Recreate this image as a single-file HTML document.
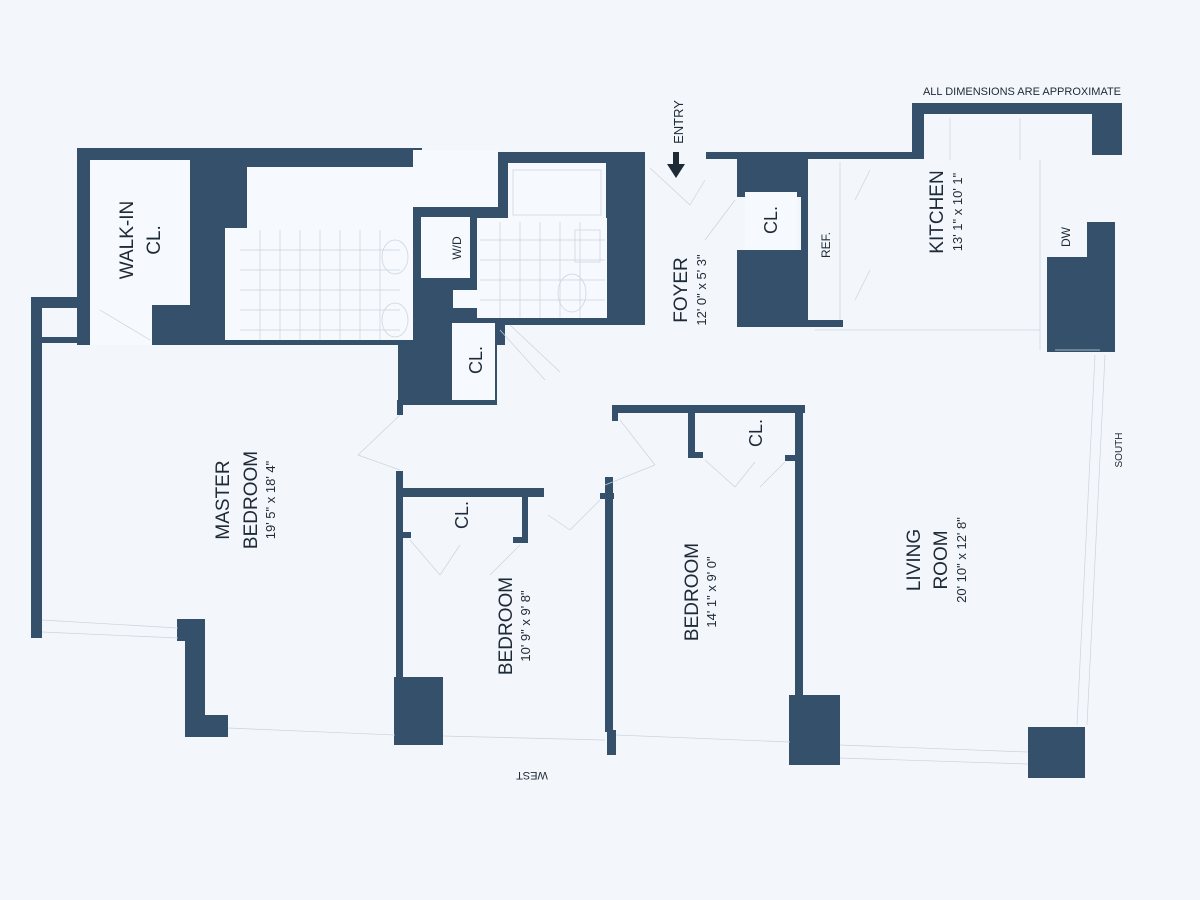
<!DOCTYPE html>
<html><head><meta charset="utf-8"><style>
html,body{margin:0;padding:0;background:#f3f7fc;}
svg{display:block}
text{font-family:"Liberation Sans",sans-serif;fill:#1e2a36}
</style></head><body>
<svg width="1200" height="900" viewBox="0 0 1200 900" xmlns="http://www.w3.org/2000/svg">
<rect width="1200" height="900" fill="#f3f7fc"/>
<g fill="#34506b">
<rect x="77" y="148" width="345" height="197"/>
<rect x="31" y="297" width="59" height="11"/>
<rect x="31" y="297" width="11" height="341"/>
<rect x="40" y="337" width="57" height="6"/>
<rect x="413" y="207" width="92" height="138"/>
<rect x="498" y="152" width="147" height="173"/>
<rect x="398" y="320" width="99" height="85"/>
<rect x="397" y="400" width="6" height="15"/>
<rect x="706" y="152" width="212" height="7"/>
<rect x="912" y="103" width="12" height="56"/>
<rect x="912" y="103" width="210" height="11"/>
<rect x="1092" y="103" width="30" height="52"/>
<rect x="737" y="152" width="71" height="45"/>
<rect x="801" y="152" width="7" height="175"/>
<rect x="737" y="250" width="71" height="77"/>
<rect x="800" y="320" width="43" height="7"/>
<rect x="1047" y="257" width="68" height="95"/>
<rect x="1087" y="222" width="28" height="40"/>
<rect x="177" y="619" width="28" height="22"/>
<rect x="185" y="619" width="20" height="118"/>
<rect x="185" y="715" width="43" height="22"/>
<rect x="396" y="471" width="7" height="274"/>
<rect x="396" y="488" width="148" height="9"/>
<rect x="522" y="493" width="6" height="50"/>
<rect x="513" y="537" width="15" height="6"/>
<rect x="403" y="532" width="8" height="6"/>
<rect x="394" y="677" width="49" height="68"/>
<rect x="605" y="477" width="8" height="255"/>
<rect x="600" y="493" width="14" height="6"/>
<rect x="607" y="730" width="9" height="25"/>
<rect x="612" y="405" width="193" height="8"/>
<rect x="612" y="405" width="6" height="16"/>
<rect x="688" y="410" width="7" height="48"/>
<rect x="688" y="452" width="15" height="6"/>
<rect x="795" y="408" width="8" height="290"/>
<rect x="785" y="455" width="18" height="6"/>
<rect x="789" y="695" width="51" height="70"/>
<rect x="1028" y="727" width="57" height="51"/>
</g>
<g fill="#f6f9fd">
<rect x="90" y="160" width="100" height="145"/>
<rect x="90" y="300" width="62" height="45"/>
<rect x="247" y="167" width="166" height="173"/>
<rect x="225" y="228" width="24" height="112"/>
<rect x="421" y="217" width="49" height="61"/>
<rect x="508" y="163" width="98" height="155"/>
<rect x="477" y="218" width="130" height="100"/>
<rect x="453" y="290" width="24" height="18"/>
<rect x="452" y="323" width="43" height="77"/>
<rect x="745" y="192" width="52" height="58"/>
<rect x="413" y="150" width="85" height="57"/>
</g>
<g stroke="#c9d3de" stroke-width="0.7" fill="none">
<path d="M240 250H400M240 270H400M240 290H400M240 310H400M240 330H400M260 230V340M280 230V340M300 230V340M320 230V340M340 230V340M360 230V340M380 230V340"/>
<path d="M480 240H605M480 260H605M480 280H605M480 300H605M500 222V318M520 222V318M540 222V318M560 222V318M580 222V318"/>
<ellipse cx="395" cy="257" rx="13" ry="17"/><ellipse cx="395" cy="320" rx="13" ry="17"/>
<ellipse cx="572" cy="293" rx="14" ry="19"/><rect x="575" y="230" width="25" height="32"/>
<rect x="513" y="170" width="88" height="45"/>
<path d="M42 620L178 628M42 632L178 638M228 728L395 735M443 736L605 740M616 735L790 742M840 745L1028 752M840 758L1028 764M1095 355L1077 725M1105 355L1087 725"/>
<path d="M840 162V320M1040 160V350M1020 118V160M950 118V160M815 330H1040M1055 350H1100M870 170L855 200M870 270L855 300"/>
<path d="M358 455L400 415M358 455L400 470M620 420L655 465M655 465L605 485M548 515L570 530M570 530L600 500M410 540L440 575M440 575L460 545M520 545L490 575M705 460L735 487M735 487L755 462M785 462L760 487M650 168L690 205M690 205L705 180M735 200L705 240M100 310L150 340M500 330L545 380M510 325L560 372"/>
</g>
<rect x="673" y="152" width="6" height="14" fill="#1e2a36"/>
<polygon points="667,164 685,164 676,178" fill="#1e2a36"/>
<g font-size="13" text-anchor="middle">
<text transform="translate(683,122) rotate(-90)">ENTRY</text>
<text x="1022" y="95" font-size="11">ALL DIMENSIONS ARE APPROXIMATE</text>
<text transform="translate(1122,450) rotate(-90)" font-size="10">SOUTH</text>
<text transform="translate(532,772) rotate(180)" font-size="11">WEST</text>
</g>
<g text-anchor="middle">
<text transform="translate(133,240) rotate(-90)" font-size="19">WALK-IN</text>
<text transform="translate(160,240) rotate(-90)" font-size="19">CL.</text>
<text transform="translate(461,248) rotate(-90)" font-size="12">W/D</text>
<text transform="translate(482,360) rotate(-90)" font-size="18">CL.</text>
<text transform="translate(777,220) rotate(-90)" font-size="18">CL.</text>
<text transform="translate(830,245) rotate(-90)" font-size="12">REF.</text>
<text transform="translate(1070,237) rotate(-90)" font-size="12">DW</text>
<text transform="translate(687,290) rotate(-90)" font-size="19">FOYER</text>
<text transform="translate(706,290) rotate(-90)" font-size="13">12' 0" x 5' 3"</text>
<text transform="translate(943,212) rotate(-90)" font-size="19">KITCHEN</text>
<text transform="translate(962,212) rotate(-90)" font-size="13">13' 1" x 10' 1"</text>
<text transform="translate(229,500) rotate(-90)" font-size="19">MASTER</text>
<text transform="translate(257,500) rotate(-90)" font-size="19">BEDROOM</text>
<text transform="translate(275,500) rotate(-90)" font-size="13">19' 5" x 18' 4"</text>
<text transform="translate(468,515) rotate(-90)" font-size="18">CL.</text>
<text transform="translate(762,433) rotate(-90)" font-size="18">CL.</text>
<text transform="translate(512,626) rotate(-90)" font-size="19">BEDROOM</text>
<text transform="translate(530,626) rotate(-90)" font-size="13">10' 9" x 9' 8"</text>
<text transform="translate(698,592) rotate(-90)" font-size="19">BEDROOM</text>
<text transform="translate(716,592) rotate(-90)" font-size="13">14' 1" x 9' 0"</text>
<text transform="translate(920,560) rotate(-90)" font-size="19">LIVING</text>
<text transform="translate(947,560) rotate(-90)" font-size="19">ROOM</text>
<text transform="translate(966,560) rotate(-90)" font-size="13">20' 10" x 12' 8"</text>
</g>
</svg>
</body></html>
